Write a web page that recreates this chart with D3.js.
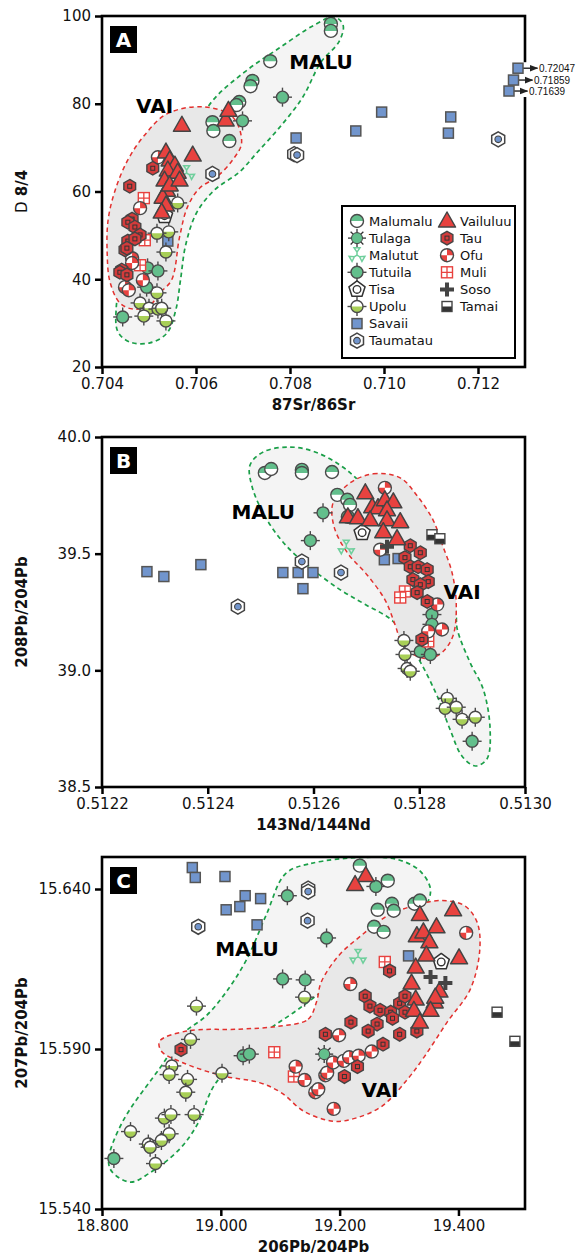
<!DOCTYPE html>
<html><head><meta charset="utf-8">
<script src="https://cdn.jsdelivr.net/npm/d3@7"></script>
<style>body{margin:0;background:#fff}svg{display:block}</style>
</head><body><div id="chart"></div>
<script>
// ---------- tick values ----------
const xTicksA=[0.704,0.706,0.708,0.710,0.712], yTicksA=[20,40,60,80,100];
const xTicksB=[0.5122,0.5124,0.5126,0.5128,0.5130], yTicksB=[38.5,39.0,39.5,40.0];
const xTicksC=[18.8,19.0,19.2,19.4], yTicksC=[15.54,15.59,15.64];

// ---------- Panel A: 87Sr/86Sr vs D8/4 ----------
const A_Malumalu=[[0.70887,98.2],[0.70887,96.6],[0.70758,89.7],[0.70720,85.2],[0.70716,84.0],[0.70692,80.4],[0.70686,79.7],[0.70635,75.8],[0.70637,73.8],[0.70671,71.5]];
const A_Tutuila=[[0.70784,81.5],[0.70699,76.1],[0.70497,42.6],[0.70519,41.9],[0.70495,38.2],[0.70444,31.4]];
const A_Upolu=[[0.70561,57.4],[0.70542,50.8],[0.70517,50.5],[0.70536,46.2],[0.70517,36.9],[0.70481,34.6],[0.70500,33.4],[0.70489,31.6],[0.70519,33.2],[0.70527,33.4],[0.70536,30.5]];
const A_Taumatau=[[0.70635,64.0],[0.70809,68.5],[0.70815,68.3],[0.71243,71.9]];
const A_Savaii=[[0.70813,72.2],[0.70940,73.8],[0.70995,78.1],[0.71137,73.3],[0.71142,77.0],[0.70540,48.7]];
const A_SavaiiOff=[[0.72047,88.1],[0.71859,85.4],[0.71639,82.9]];
const A_Vailuluu=[[0.70570,75.1],[0.70593,68.3],[0.70663,76.3],[0.70669,78.5],[0.70536,69.0],[0.70544,67.2],[0.70555,66.0],[0.70540,64.9],[0.70561,64.4],[0.70533,62.6],[0.70538,60.3],[0.70529,58.7],[0.70536,56.9],[0.70527,55.3],[0.70544,61.5],[0.70565,62.6]];
const A_Tau=[[0.70459,61.2],[0.70508,65.3],[0.70464,53.7],[0.70455,53.0],[0.70470,51.9],[0.70481,50.1],[0.70455,48.7],[0.70470,49.2],[0.70449,46.7],[0.70453,47.1],[0.70442,42.1],[0.70438,41.6],[0.70453,41.0]];
const A_Ofu=[[0.70481,56.2],[0.70519,67.8],[0.70464,44.8],[0.70464,43.7],[0.70449,38.2],[0.70457,37.5],[0.70487,39.8]];
const A_Muli=[[0.70489,58.5],[0.70491,48.9],[0.70481,43.2]];
const A_Malutut=[[0.70580,64.2]];
const A_Tisa=[[0.70533,54.5]];
const A_MaluEnv=[[0.70894,99.8],[0.70913,97.9],[0.70904,94.1],[0.70866,89.5],[0.70826,81.3],[0.70777,74.5],[0.70731,69.0],[0.70692,64.4],[0.70639,60.3],[0.70601,55.1],[0.70578,47.8],[0.70567,39.8],[0.70557,33.0],[0.70538,27.7],[0.70502,25.5],[0.70459,25.7],[0.70434,28.0],[0.70430,33.0],[0.70449,44.4],[0.70502,58.1],[0.70576,69.5],[0.70633,80.4],[0.70703,87.2],[0.70777,92.7],[0.70851,97.9]];
const A_VaiEnv=[[0.70614,79.3],[0.70678,77.0],[0.70697,71.1],[0.70678,67.2],[0.70644,63.3],[0.70608,60.8],[0.70582,56.5],[0.70565,49.6],[0.70548,39.8],[0.70523,36.9],[0.70502,34.1],[0.70466,33.2],[0.70438,34.6],[0.70417,39.4],[0.70411,46.0],[0.70413,53.5],[0.70428,60.3],[0.70455,67.2],[0.70491,72.9],[0.70538,77.7]];
const A_MaluLabel=[0.70866,89.5], A_VaiLabel=[0.70512,79.5];

// ---------- Panel B: 143Nd/144Nd vs 208Pb/204Pb ----------
const B_Savaii=[[0.512285,39.423],[0.512317,39.402],[0.512387,39.453],[0.512542,39.419],[0.512571,39.419],[0.512599,39.419],[0.512580,39.350],[0.512734,39.474],[0.512760,39.479]];
const B_Taumatau=[[0.512457,39.273],[0.512578,39.466],[0.512652,39.419]];
const B_Malumalu=[[0.512508,39.846],[0.512520,39.863],[0.512578,39.859],[0.512578,39.846],[0.512635,39.850],[0.512645,39.752],[0.512664,39.731],[0.512669,39.709],[0.512665,39.658]];
const B_Tutuila=[[0.512618,39.675],[0.512594,39.556],[0.512824,39.239],[0.512824,39.197],[0.512802,39.081],[0.512821,39.068],[0.512900,38.696]];
const B_Tisa=[[0.512692,39.590]];
const B_Malutut=[[0.512662,39.526]];
const B_Vailuluu=[[0.512698,39.761],[0.512711,39.701],[0.512722,39.697],[0.512735,39.731],[0.512751,39.722],[0.512739,39.688],[0.512665,39.658],[0.512684,39.654],[0.512707,39.645],[0.512739,39.645],[0.512764,39.637],[0.512732,39.594],[0.512758,39.564]];
const B_Ofu=[[0.512735,39.782],[0.512726,39.517],[0.512834,39.282],[0.512843,39.175],[0.512817,39.167]];
const B_Soso=[[0.512739,39.530]];
const B_Tamai=[[0.512824,39.581],[0.512839,39.564]];
const B_Tau=[[0.512783,39.534],[0.512802,39.504],[0.512773,39.483],[0.512783,39.444],[0.512798,39.444],[0.512815,39.432],[0.512788,39.389],[0.512817,39.380],[0.512802,39.367],[0.512796,39.333],[0.512815,39.295],[0.512805,39.132]];
const B_Muli=[[0.512773,39.338],[0.512764,39.312],[0.512817,39.124]];
const B_Upolu=[[0.512771,39.128],[0.512773,39.068],[0.512777,39.008],[0.512783,38.996],[0.512853,38.880],[0.512849,38.837],[0.512870,38.842],[0.512881,38.790],[0.512906,38.799]];
const B_MaluEnv=[[0.512505,39.936],[0.512556,39.957],[0.512603,39.936],[0.512650,39.880],[0.512684,39.816],[0.512726,39.709],[0.512783,39.560],[0.512839,39.389],[0.512868,39.261],[0.512872,39.175],[0.512896,39.034],[0.512921,38.919],[0.512934,38.748],[0.512928,38.620],[0.512906,38.590],[0.512881,38.632],[0.512858,38.748],[0.512834,38.889],[0.512796,39.060],[0.512751,39.209],[0.512698,39.282],[0.512650,39.346],[0.512594,39.440],[0.512550,39.530],[0.512512,39.645],[0.512484,39.786],[0.512480,39.880]];
const B_VaiEnv=[[0.512669,39.803],[0.512713,39.842],[0.512764,39.825],[0.512796,39.748],[0.512826,39.645],[0.512845,39.530],[0.512862,39.419],[0.512870,39.282],[0.512864,39.149],[0.512845,39.081],[0.512821,39.051],[0.512792,39.064],[0.512768,39.111],[0.512754,39.197],[0.512735,39.303],[0.512701,39.410],[0.512664,39.504],[0.512639,39.615],[0.512637,39.718]];
const B_MaluLabel=[0.512505,39.679], B_VaiLabel=[0.512881,39.338];

// ---------- Panel C: 206Pb/204Pb vs 207Pb/204Pb ----------
const C_Savaii=[[18.952,15.6467],[18.957,15.6436],[19.007,15.6439],[19.041,15.6379],[19.067,15.6370],[19.032,15.6345],[19.009,15.6335],[19.061,15.6288],[19.316,15.6191]];
const C_Taumatau=[[18.962,15.6282],[19.147,15.6401],[19.147,15.6392],[19.146,15.6301]];
const C_Tutuila=[[19.112,15.6379],[19.261,15.6408],[19.178,15.6247],[19.104,15.6119],[19.142,15.6116],[19.0375,15.5879],[19.048,15.5884],[18.820,15.5558]];
const C_Malumalu=[[19.234,15.6473],[19.281,15.6426],[19.264,15.6335],[19.288,15.6354],[19.291,15.6332],[19.326,15.6354],[19.335,15.6364],[19.258,15.6282],[19.274,15.6266]];
const C_Vailuluu=[[19.244,15.6442],[19.226,15.6414],[19.335,15.6320],[19.391,15.6335],[19.363,15.6282],[19.330,15.6254],[19.341,15.6266],[19.351,15.6235],[19.346,15.6194],[19.401,15.6185],[19.328,15.6156],[19.321,15.6106],[19.328,15.6056],[19.360,15.6047],[19.368,15.6081],[19.361,15.6062],[19.325,15.6021],[19.353,15.6021],[19.335,15.5984]];
const C_Upolu=[[18.959,15.6034],[18.949,15.5930],[19.141,15.6062],[18.9175,15.5847],[18.913,15.582],[18.944,15.5805],[18.941,15.5765],[19.002,15.5824],[18.905,15.5684],[18.916,15.5695],[18.955,15.5695],[18.848,15.5642],[18.913,15.5635],[18.900,15.5614],[18.878,15.5603],[18.881,15.5593],[18.890,15.5542]];
const C_Malutut=[[19.231,15.6188]];
const C_Muli=[[19.276,15.6172],[19.090,15.5890],[19.123,15.5814]];
const C_Tisa=[[19.371,15.6172]];
const C_Soso=[[19.353,15.6125],[19.378,15.6106]];
const C_Tamai=[[19.465,15.6015],[19.495,15.5924]];
const C_Tulaga=[[19.174,15.5884]];
const C_Tau=[[19.284,15.6144],[19.243,15.6065],[19.251,15.6034],[19.268,15.6021],[19.219,15.5984],[19.286,15.6015],[19.301,15.6043],[19.310,15.6065],[19.310,15.6015],[19.289,15.5996],[19.263,15.5978],[19.248,15.5956],[19.176,15.5946],[19.301,15.5946],[19.330,15.5956],[19.273,15.5915],[18.933,15.5898],[19.208,15.5814],[19.230,15.5845]];
const C_Ofu=[[19.413,15.6263],[19.218,15.6103],[19.199,15.5943],[19.126,15.5845],[19.141,15.5803],[19.159,15.5765],[19.164,15.5774],[19.176,15.5818],[19.179,15.5826],[19.189,15.5858],[19.190,15.5713],[19.207,15.5863],[19.216,15.5874],[19.232,15.5879],[19.254,15.5892]];
const C_MaluEnv=[[19.109,15.6448],[19.152,15.6480],[19.243,15.6499],[19.298,15.6492],[19.336,15.6455],[19.353,15.6392],[19.323,15.6291],[19.231,15.6166],[19.131,15.6025],[19.047,15.5915],[19.003,15.5821],[18.985,15.5774],[18.960,15.5663],[18.929,15.5584],[18.879,15.5511],[18.848,15.5484],[18.817,15.5516],[18.811,15.5553],[18.835,15.5674],[18.904,15.5858],[18.935,15.5946],[18.975,15.6003],[19.009,15.6078],[19.044,15.6182],[19.076,15.6317]];
const C_VaiEnv=[[19.097,15.5971],[19.147,15.5993],[19.161,15.6047],[19.169,15.6109],[19.198,15.6191],[19.236,15.6254],[19.281,15.6317],[19.320,15.6345],[19.370,15.6364],[19.410,15.6348],[19.431,15.6298],[19.436,15.6213],[19.420,15.6087],[19.381,15.5984],[19.343,15.5877],[19.314,15.5805],[19.271,15.5721],[19.227,15.5684],[19.190,15.5674],[19.140,15.5705],[19.102,15.5763],[19.065,15.5795],[19.003,15.5816],[18.935,15.5858],[18.900,15.5893],[18.897,15.5924],[18.942,15.5956],[19.031,15.5962]];
const C_MaluLabel=[19.044,15.6213], C_VaiLabel=[19.268,15.5774];

const legendLeft=["Malumalu","Tulaga","Malutut","Tutuila","Tisa","Upolu","Savaii","Taumatau"];
const legendRight=["Vailuluu","Tau","Ofu","Muli","Soso","Tamai"];

// ---------- styles ----------
const FONT="'DejaVu Sans', Verdana, sans-serif";
const GREEN="#63bf8c", YG="#a8cf57", BLUE="#7195cd", RED="#e8423f", TAURED="#d43b3b", STK="#4a4a4a", LGREEN="#6fcf9c";

const svg=d3.select("#chart").append("svg").attr("width",581).attr("height",1260).style("font-family",FONT);
const defs=svg.append("defs");
defs.append("marker").attr("id","arr").attr("viewBox","0 0 10 10").attr("refX",9).attr("refY",5)
  .attr("markerWidth",6).attr("markerHeight",6).attr("orient","auto")
  .append("path").attr("d","M0,1L10,5L0,9Z").attr("fill","#222");

function ticks4(g,r,len){
  [[0,-1],[0,1],[-1,0],[1,0]].forEach(([a,b])=>g.append("line").attr("x1",a*r).attr("y1",b*r).attr("x2",a*(r+len)).attr("y2",b*(r+len)).attr("stroke",STK).attr("stroke-width",1.4));
}
function polyPts(n,r,rot){return d3.range(n).map(i=>{const a=rot+i*2*Math.PI/n;return [r*Math.cos(a),r*Math.sin(a)];});}
const SYM={
  Malumalu:g=>{g.append("circle").attr("r",6.5).attr("fill","#fff");
    g.append("path").attr("d","M-6.5,0A6.5,6.5 0 0 1 6.5,0Z").attr("fill",GREEN);
    g.append("circle").attr("r",6.5).attr("fill","none").attr("stroke",STK).attr("stroke-width",1.4);},
  Tulaga:g=>{d3.range(8).forEach(i=>{const a=i*Math.PI/4;g.append("line").attr("x1",5*Math.cos(a)).attr("y1",5*Math.sin(a)).attr("x2",9*Math.cos(a)).attr("y2",9*Math.sin(a)).attr("stroke","#333").attr("stroke-width",1.3);});
    g.append("circle").attr("r",5.5).attr("fill",GREEN).attr("stroke","#444").attr("stroke-width",1);},
  Malutut:g=>{[-90,30,150].forEach(d=>{const a=d*Math.PI/180,p=(r,da)=>[r*Math.cos(a+da),r*Math.sin(a+da)];
      const p1=p(3,0),p2=p(8,0.38),p3=p(8,-0.38);
      g.append("path").attr("d",`M0,0L${p1}L${p2}L${p3}L${p1}`).attr("fill","none").attr("stroke",LGREEN).attr("stroke-width",1.5);});},
  Tutuila:g=>{ticks4(g,6,3.5);g.append("circle").attr("r",6).attr("fill",GREEN).attr("stroke",STK).attr("stroke-width",1.4);},
  Tisa:g=>{g.append("path").attr("d","M"+polyPts(5,8.5,-Math.PI/2).join("L")+"Z").attr("fill","#fff").attr("stroke","#333").attr("stroke-width",1.5).attr("stroke-linejoin","round");
    g.append("circle").attr("r",3.8).attr("fill","#fff").attr("stroke","#333").attr("stroke-width",1.4);},
  Upolu:g=>{ticks4(g,6,3.5);g.append("circle").attr("r",6).attr("fill","#fff");
    g.append("path").attr("d","M-6,0A6,6 0 0 0 6,0Z").attr("fill",YG);
    g.append("circle").attr("r",6).attr("fill","none").attr("stroke",STK).attr("stroke-width",1.4);},
  Savaii:g=>{g.append("rect").attr("x",-5).attr("y",-5).attr("width",10).attr("height",10).attr("fill",BLUE).attr("stroke","#555").attr("stroke-width",1.5);},
  Taumatau:g=>{g.append("path").attr("d","M"+polyPts(6,7.5,-Math.PI/2).join("L")+"Z").attr("fill","#fff").attr("stroke","#444").attr("stroke-width",1.5);
    g.append("circle").attr("r",3.3).attr("fill",BLUE).attr("stroke","#444").attr("stroke-width",1.1);},
  Vailuluu:g=>{g.append("path").attr("d","M0,-9L8.5,6L-8.5,6Z").attr("fill",RED).attr("stroke","#444").attr("stroke-width",1.5).attr("stroke-linejoin","round");},
  Tau:g=>{g.append("path").attr("d","M"+polyPts(6,6.8,-Math.PI/2).join("L")+"Z").attr("fill",TAURED).attr("stroke","#444").attr("stroke-width",1.4);
    g.append("rect").attr("x",-2).attr("y",-2).attr("width",4).attr("height",4).attr("fill","none").attr("stroke","#333").attr("stroke-width",1);},
  Ofu:g=>{g.append("circle").attr("r",6.5).attr("fill","#fff");
    g.append("path").attr("d","M0,0L0,-6.5A6.5,6.5 0 0 1 6.5,0Z M0,0L0,6.5A6.5,6.5 0 0 1 -6.5,0Z").attr("fill",RED);
    g.append("circle").attr("r",6.5).attr("fill","none").attr("stroke",STK).attr("stroke-width",1.4);},
  Muli:g=>{g.append("rect").attr("x",-5.5).attr("y",-5.5).attr("width",11).attr("height",11).attr("fill","#fff").attr("stroke",RED).attr("stroke-width",1.4);
    g.append("path").attr("d","M0,-5.5V5.5M-5.5,0H5.5").attr("stroke",RED).attr("stroke-width",1.3);},
  Soso:g=>{g.append("path").attr("d","M-2,-7H2V-2H7V2H2V7H-2V2H-7V-2H-2Z").attr("fill","#444");},
  Tamai:g=>{g.append("rect").attr("x",-5).attr("y",-5).attr("width",10).attr("height",10).attr("fill","#fff");
    g.append("rect").attr("x",-5).attr("y",0).attr("width",10).attr("height",5).attr("fill","#333");
    g.append("rect").attr("x",-5).attr("y",-5).attr("width",10).attr("height",10).attr("fill","none").attr("stroke","#444").attr("stroke-width",1.4);}
};
const ORDER=["Savaii","Taumatau","Upolu","Tutuila","Malumalu","Tulaga","Malutut","Tisa","Muli","Ofu","Tau","Vailuluu","Soso","Tamai"];

const L=102,R=525;
function panel(cfg){
  const x=d3.scaleLinear().domain(cfg.xd).range([L,R]);
  const y=d3.scaleLinear().domain(cfg.yd).range([cfg.bottom,cfg.top]);
  const g=svg.append("g");
  const line=d3.line().x(d=>x(d[0])).y(d=>y(d[1])).curve(d3.curveCatmullRomClosed.alpha(0.5));
  g.append("path").attr("d",line(cfg.malu)).attr("fill","#f4f4f4").attr("stroke","#1a9f48").attr("stroke-width",1.7).attr("stroke-dasharray","4.5,3.5");
  g.append("path").attr("d",line(cfg.vai)).attr("fill","#e8e8e8").attr("stroke","#e3302e").attr("stroke-width",1.5).attr("stroke-dasharray","4.5,3.5");
  [[cfg.maluLabel,"MALU"],[cfg.vaiLabel,"VAI"]].forEach(([p,t])=>g.append("text").attr("x",x(p[0])).attr("y",y(p[1])).attr("dy","0.36em")
     .attr("text-anchor","middle").attr("font-size",20).attr("font-weight","bold").attr("fill","#000").text(t));
  ORDER.forEach(name=>{
    const arr=cfg.series[name]; if(!arr) return;
    g.append("g").selectAll("g").data(arr).join("g")
      .attr("transform",d=>`translate(${x(d[0])},${y(d[1])})`)
      .each(function(){SYM[name](d3.select(this));});
  });
  const xa=g.append("g").attr("transform",`translate(0,${cfg.bottom})`)
    .call(d3.axisBottom(x).tickValues(cfg.xt).tickFormat(d3.format(cfg.xf)).tickSize(7).tickSizeOuter(0).tickPadding(4));
  const ya=g.append("g").attr("transform",`translate(${L},0)`)
    .call(d3.axisLeft(y).tickValues(cfg.yt).tickFormat(d3.format(cfg.yf)).tickSize(7).tickSizeOuter(0).tickPadding(4));
  [xa,ya].forEach(a=>{a.select(".domain").remove();a.attr("font-family",FONT).attr("font-size",15);
    a.selectAll("line").attr("stroke","#000").attr("stroke-width",2.5);a.selectAll("text").attr("fill","#111");});
  g.append("rect").attr("x",L).attr("y",cfg.top).attr("width",R-L).attr("height",cfg.bottom-cfg.top)
    .attr("fill","none").attr("stroke","#000").attr("stroke-width",2.6);
  // panel letter
  g.append("rect").attr("x",L+8).attr("y",cfg.top+10).attr("width",27).attr("height",27).attr("fill","#000");
  g.append("text").attr("x",L+21.5).attr("y",cfg.top+23.5).attr("dy","0.36em").attr("text-anchor","middle")
    .attr("font-size",20).attr("font-weight","bold").attr("fill","#fff").text(cfg.letter);
  // axis titles
  g.append("text").attr("x",(L+R)/2).attr("y",cfg.bottom+43).attr("text-anchor","middle").attr("font-size",15).attr("font-weight","bold").attr("fill","#111").text(cfg.xtitle);
  const yt=g.append("text").attr("transform",`translate(27,${(cfg.top+cfg.bottom)/2}) rotate(-90)`).attr("text-anchor","middle").attr("font-size",15).attr("font-weight","bold").attr("fill","#111");
  cfg.ytitle.forEach(([t,w])=>yt.append("tspan").attr("font-weight",w).text(t));
  return {x,y,g};
}

const pA=panel({letter:"A",top:16,bottom:367,xd:[0.704,0.713],yd:[20,100],xt:xTicksA,yt:yTicksA,xf:".3f",yf:"d",
  xtitle:"87Sr/86Sr",ytitle:[["D","normal"],[" 8/4","bold"]],malu:A_MaluEnv,vai:A_VaiEnv,maluLabel:A_MaluLabel,vaiLabel:A_VaiLabel,
  series:{Malumalu:A_Malumalu,Tutuila:A_Tutuila,Upolu:A_Upolu,Taumatau:A_Taumatau,Savaii:A_Savaii,Vailuluu:A_Vailuluu,Tau:A_Tau,Ofu:A_Ofu,Muli:A_Muli,Malutut:A_Malutut,Tisa:A_Tisa}});
panel({letter:"B",top:437,bottom:787,xd:[0.5122,0.5130],yd:[38.5,40.0],xt:xTicksB,yt:yTicksB,xf:".4f",yf:".1f",
  xtitle:"143Nd/144Nd",ytitle:[["208Pb/204Pb","bold"]],malu:B_MaluEnv,vai:B_VaiEnv,maluLabel:B_MaluLabel,vaiLabel:B_VaiLabel,
  series:{Savaii:B_Savaii,Taumatau:B_Taumatau,Malumalu:B_Malumalu,Tutuila:B_Tutuila,Tisa:B_Tisa,Malutut:B_Malutut,Vailuluu:B_Vailuluu,Ofu:B_Ofu,Soso:B_Soso,Tamai:B_Tamai,Tau:B_Tau,Muli:B_Muli,Upolu:B_Upolu}});
panel({letter:"C",top:857,bottom:1209,xd:[18.8,19.512],yd:[15.54,15.65],xt:xTicksC,yt:yTicksC,xf:".3f",yf:".3f",
  xtitle:"206Pb/204Pb",ytitle:[["207Pb/204Pb","bold"]],malu:C_MaluEnv,vai:C_VaiEnv,maluLabel:C_MaluLabel,vaiLabel:C_VaiLabel,
  series:{Savaii:C_Savaii,Taumatau:C_Taumatau,Tutuila:C_Tutuila,Malumalu:C_Malumalu,Vailuluu:C_Vailuluu,Upolu:C_Upolu,Malutut:C_Malutut,Muli:C_Muli,Tisa:C_Tisa,Soso:C_Soso,Tamai:C_Tamai,Tulaga:C_Tulaga,Tau:C_Tau,Ofu:C_Ofu}});

// off-scale Savaii samples in panel A (arrows + values)
const offG=pA.g.append("g");
offG.append("rect").attr("x",R-3).attr("y",pA.y(A_SavaiiOff[0][1])-6).attr("width",8).attr("height",pA.y(A_SavaiiOff[2][1])-pA.y(A_SavaiiOff[0][1])+12).attr("fill","#fff");
A_SavaiiOff.forEach((d,i)=>{
  const sx=R-7-i*4.5, sy=pA.y(d[1]), lx=R+14-i*5;
  offG.append("line").attr("x1",sx+5).attr("y1",sy).attr("x2",lx-1.5).attr("y2",sy).attr("stroke","#222").attr("stroke-width",1.4).attr("marker-end","url(#arr)");
  const gg=offG.append("g").attr("transform",`translate(${sx},${sy})`); SYM.Savaii(gg);
  offG.append("text").attr("x",lx).attr("y",sy).attr("dy","0.35em").attr("font-family","'Liberation Sans Narrow','Liberation Sans',sans-serif")
    .attr("font-size",11).attr("textLength",36).attr("lengthAdjust","spacingAndGlyphs").attr("fill","#111").text(d3.format(".5f")(d[0]));
});

// legend in panel A
const lg=pA.g.append("g");
lg.append("rect").attr("x",342).attr("y",206).attr("width",173).attr("height",152).attr("fill","#fff").attr("stroke","#000").attr("stroke-width",2);
legendLeft.forEach((n,i)=>{const yy=221+i*17.1;SYM[n](lg.append("g").attr("transform",`translate(357,${yy})`));
  lg.append("text").attr("x",369).attr("y",yy).attr("dy","0.35em").attr("font-size",13).attr("fill","#111").text(n);});
legendRight.forEach((n,i)=>{const yy=221+i*17.1;SYM[n](lg.append("g").attr("transform",`translate(447,${yy})`));
  lg.append("text").attr("x",460).attr("y",yy).attr("dy","0.35em").attr("font-size",13).attr("fill","#111").text(n);});
</script></body></html>
